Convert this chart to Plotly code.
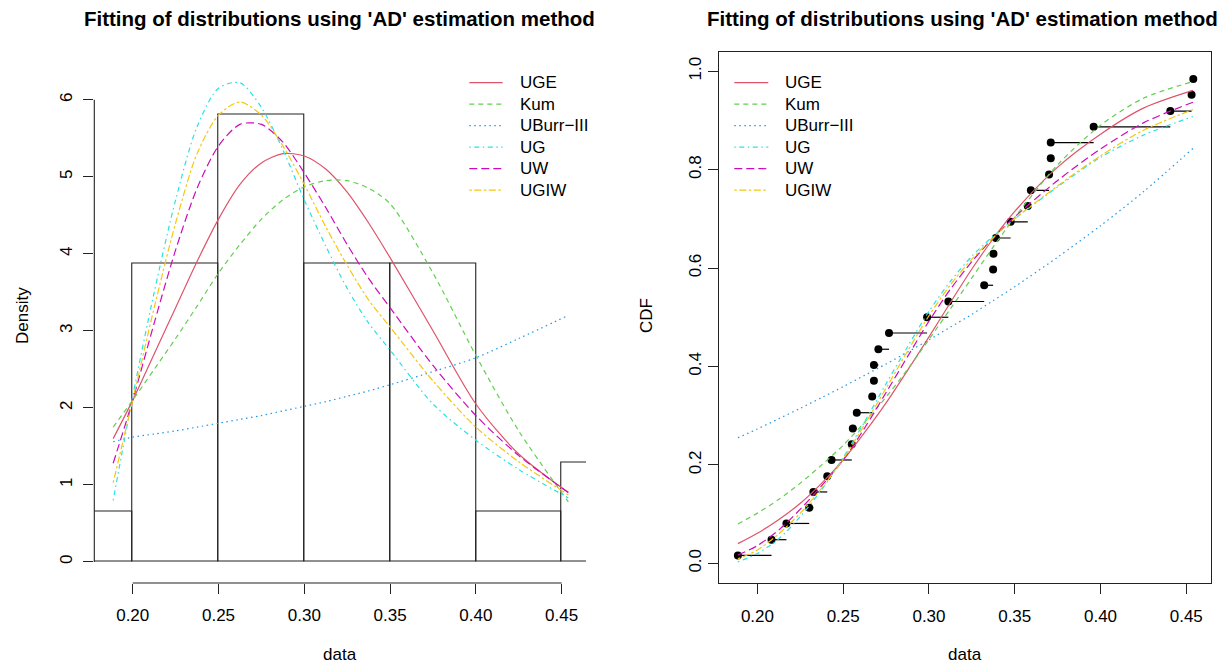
import plotly.graph_objects as go

# page is 1228x666; the html body adds an 8px margin, so the figure is drawn
# 8px in and all target positions below are page pixels
PAGE_OFF = 8
W, H = 1220, 658

# ---------------- data ----------------
series_names = ["UGE", "Kum", "UBurr\u2212III", "UG", "UW", "UGIW"]
series_colors = ["#DF536B", "#61D04F", "#2297E6", "#28E2E5", "#CD0BBC", "#F5C710"]
series_dash = ["solid", "5px,4px", "1.5px,3.5px", "1.5px,3.5px,5px,3.5px",
               "8px,4px", "2.5px,2.5px,7px,2.5px"]

hist_breaks = [0.15, 0.20, 0.25, 0.30, 0.35, 0.40, 0.45, 0.50]
hist_density = [0.65, 3.87, 5.81, 3.87, 3.87, 0.65, 1.29]

curve_x = [0.1886, 0.20, 0.2125, 0.225, 0.2375, 0.25, 0.2625, 0.275, 0.2875,
           0.30, 0.3125, 0.325, 0.3375, 0.35, 0.375, 0.40, 0.425, 0.4539]

dens_UGE = [1.60, 2.10, 2.70, 3.30, 3.90, 4.45, 4.90, 5.18, 5.30,
            5.27, 5.10, 4.80, 4.40, 3.95, 3.00, 2.05, 1.40, 0.90]
dens_Kum = [1.75, 2.10, 2.50, 2.90, 3.32, 3.75, 4.12, 4.45, 4.70,
            4.87, 4.95, 4.95, 4.85, 4.65, 3.75, 2.68, 1.70, 0.78]
dens_UBurr = [1.56, 1.62, 1.66, 1.70, 1.75, 1.80, 1.85, 1.90, 1.96,
              2.02, 2.08, 2.15, 2.22, 2.30, 2.47, 2.65, 2.90, 3.20]
dens_UG = [0.80, 2.15, 3.50, 4.70, 5.65, 6.15, 6.22, 5.90, 5.35,
           4.70, 4.10, 3.55, 3.10, 2.75, 2.05, 1.58, 1.20, 0.83]
dens_UW = [1.28, 2.10, 3.10, 4.05, 4.85, 5.40, 5.68, 5.68, 5.45,
           5.05, 4.60, 4.12, 3.68, 3.30, 2.55, 1.90, 1.38, 0.90]
dens_UGIW = [1.03, 2.10, 3.30, 4.40, 5.30, 5.80, 5.97, 5.80, 5.40,
             4.90, 4.35, 3.85, 3.40, 3.05, 2.35, 1.75, 1.30, 0.87]

cdf_UGE = [0.040, 0.061, 0.089, 0.122, 0.163, 0.210, 0.266, 0.326, 0.392,
           0.460, 0.530, 0.598, 0.660, 0.715, 0.805, 0.872, 0.925, 0.961]
cdf_Kum = [0.080, 0.102, 0.130, 0.163, 0.200, 0.240, 0.287, 0.338, 0.394,
           0.455, 0.517, 0.580, 0.643, 0.703, 0.810, 0.890, 0.945, 0.979]
cdf_UBurr = [0.255, 0.273, 0.294, 0.315, 0.337, 0.359, 0.382, 0.405, 0.429,
             0.454, 0.480, 0.506, 0.534, 0.562, 0.622, 0.686, 0.755, 0.843]
cdf_UG = [0.003, 0.020, 0.050, 0.095, 0.150, 0.215, 0.288, 0.365, 0.440,
          0.512, 0.573, 0.624, 0.665, 0.700, 0.765, 0.825, 0.870, 0.908]
cdf_UW = [0.017, 0.036, 0.068, 0.110, 0.158, 0.210, 0.275, 0.347, 0.420,
          0.492, 0.557, 0.613, 0.662, 0.704, 0.778, 0.842, 0.895, 0.937]
cdf_UGIW = [0.009, 0.027, 0.060, 0.102, 0.153, 0.212, 0.282, 0.356, 0.431,
            0.503, 0.566, 0.618, 0.662, 0.700, 0.767, 0.828, 0.880, 0.922]

densities = [dens_UGE, dens_Kum, dens_UBurr, dens_UG, dens_UW, dens_UGIW]
cdfs = [cdf_UGE, cdf_Kum, cdf_UBurr, cdf_UG, cdf_UW, cdf_UGIW]

# sorted observations and their plotting positions
obs_x = [0.1886, 0.2082, 0.2169, 0.2302, 0.2326, 0.2407, 0.2432, 0.2550,
         0.2556, 0.2579, 0.2669, 0.2679, 0.2679, 0.2705, 0.2767, 0.2989,
         0.3113, 0.3322, 0.3374, 0.3376, 0.3390, 0.3476, 0.3576, 0.3594,
         0.3700, 0.3710, 0.3710, 0.3960, 0.4407, 0.4531, 0.4541]
obs_p = [0.016, 0.048, 0.081, 0.113, 0.145, 0.177, 0.210, 0.242,
         0.274, 0.306, 0.339, 0.371, 0.403, 0.435, 0.468, 0.500,
         0.532, 0.565, 0.597, 0.629, 0.661, 0.694, 0.726, 0.758,
         0.790, 0.823, 0.855, 0.887, 0.919, 0.952, 0.984]

x_ticks = [0.20, 0.25, 0.30, 0.35, 0.40, 0.45]
x_ticktext = ["0.20", "0.25", "0.30", "0.35", "0.40", "0.45"]
dens_ticks = [0, 1, 2, 3, 4, 5, 6]
cdf_ticks = [0.0, 0.2, 0.4, 0.6, 0.8, 1.0]
cdf_ticktext = ["0.0", "0.2", "0.4", "0.6", "0.8", "1.0"]

title_text = "Fitting of distributions using 'AD' estimation method"

# ---------------- figure ----------------
FONT = "Liberation Sans, Arial, Helvetica, sans-serif"
fig = go.Figure()

# histogram
mids = [(a + b) / 2 for a, b in zip(hist_breaks[:-1], hist_breaks[1:])]
widths = [b - a for a, b in zip(hist_breaks[:-1], hist_breaks[1:])]
fig.add_trace(go.Bar(x=mids, y=hist_density, width=widths,
                     marker=dict(color="rgba(0,0,0,0)",
                                 line=dict(color="#222222", width=1.1)),
                     xaxis="x", yaxis="y", showlegend=False, hoverinfo="skip"))

for name, col, dash, d in zip(series_names, series_colors, series_dash, densities):
    fig.add_trace(go.Scatter(x=curve_x, y=d, mode="lines", name=name,
                             line=dict(color=col, dash=dash, width=1.2,
                                       shape="spline", smoothing=0.8),
                             xaxis="x", yaxis="y", showlegend=False))

# ECDF steps + points
seg_x, seg_y = [], []
for i in range(len(obs_x) - 1):
    seg_x += [obs_x[i], obs_x[i + 1], None]
    seg_y += [obs_p[i], obs_p[i], None]
fig.add_trace(go.Scatter(x=seg_x, y=seg_y, mode="lines",
                         line=dict(color="black", width=1.2),
                         xaxis="x2", yaxis="y2", showlegend=False, hoverinfo="skip"))
fig.add_trace(go.Scatter(x=obs_x, y=obs_p, mode="markers",
                         marker=dict(color="black", size=8),
                         xaxis="x2", yaxis="y2", showlegend=False))

for name, col, dash, c in zip(series_names, series_colors, series_dash, cdfs):
    fig.add_trace(go.Scatter(x=curve_x, y=c, mode="lines", name=name,
                             line=dict(color=col, dash=dash, width=1.2,
                                       shape="spline", smoothing=0.8),
                             xaxis="x2", yaxis="y2", showlegend=False))

# ---------------- layout ----------------
def px(x):
    return (x - PAGE_OFF) / W

def py(y):
    return 1 - (y - PAGE_OFF) / H

L_X0, L_X1 = 94.3, 586.0
R_X0, R_X1 = 719.2, 1210.8
Y_TOP, Y_BOT = 51.5, 583.0

tickfont = dict(family=FONT, size=17, color="black")

axis_common = dict(showgrid=False, zeroline=False, ticks="outside", ticklen=10,
                   tickwidth=1, tickcolor="#222222", tickfont=tickfont)

fig.update_layout(
    width=W, height=H, margin=dict(l=0, r=0, t=0, b=0),
    paper_bgcolor="white", plot_bgcolor="white", showlegend=False,
    font=dict(family=FONT, size=17, color="black"),
    bargap=0,
    xaxis=dict(domain=[px(L_X0), px(L_X1)], range=[0.1776, 0.4642],
               tickvals=x_ticks, ticktext=x_ticktext, showline=False,
               ticklabelstandoff=7, anchor="y", **axis_common),
    yaxis=dict(domain=[py(Y_BOT), py(Y_TOP)], range=[-0.274, 6.626],
               tickvals=dens_ticks, tickangle=-90, showline=False,
               ticklabelstandoff=5, anchor="x", **axis_common),
    xaxis2=dict(domain=[px(R_X0), px(R_X1)], range=[0.1777, 0.4643],
                tickvals=x_ticks, ticktext=x_ticktext, showline=True,
                mirror=True, linecolor="#222222", linewidth=1.2,
                ticklabelstandoff=7, anchor="y2", **axis_common),
    yaxis2=dict(domain=[py(Y_BOT), py(Y_TOP)], range=[-0.04, 1.04],
                tickvals=cdf_ticks, ticktext=cdf_ticktext, tickangle=-90,
                showline=True, mirror=True, linecolor="#222222", linewidth=1.2,
                anchor="x2", **axis_common),
)

shapes = [
    dict(type="line", xref="x", yref="y domain", x0=x_ticks[0], x1=x_ticks[-1],
         y0=0, y1=0, line=dict(color="#222222", width=1.1)),
    dict(type="line", xref="x domain", yref="y", x0=0, x1=0,
         y0=dens_ticks[0], y1=dens_ticks[-1], line=dict(color="#222222", width=1.1)),
]

annotations = []
# titles
for cx in (339.5, 962.0):
    annotations.append(dict(text="<b>%s</b>" % title_text, x=px(cx), y=py(18.5),
                            xref="paper", yref="paper", xanchor="center",
                            yanchor="middle", showarrow=False,
                            font=dict(family=FONT, size=20.5, color="black")))
# axis titles
for cx in (340.0, 965.0):
    annotations.append(dict(text="data", x=px(cx), y=py(654), xref="paper",
                            yref="paper", xanchor="center", yanchor="middle",
                            showarrow=False, font=dict(family=FONT, size=17)))
annotations.append(dict(text="Density", x=px(22), y=py(316), xref="paper",
                        yref="paper", xanchor="center", yanchor="middle",
                        textangle=-90, showarrow=False, font=dict(family=FONT, size=17)))
annotations.append(dict(text="CDF", x=px(646), y=py(316), xref="paper",
                        yref="paper", xanchor="center", yanchor="middle",
                        textangle=-90, showarrow=False, font=dict(family=FONT, size=17)))

# legends (manual, R-style without box)
for lx0, lx1, tx in ((469.3, 502.7, 518.3), (734.3, 768.3, 783.3)):
    for i, (name, col, dash) in enumerate(zip(series_names, series_colors, series_dash)):
        yy = 82.7 + 21.5 * i
        shapes.append(dict(type="line", xref="paper", yref="paper",
                           x0=px(lx0), x1=px(lx1), y0=py(yy), y1=py(yy),
                           line=dict(color=col, width=1.2, dash=dash)))
        annotations.append(dict(text=name, x=px(tx), y=py(yy), xref="paper",
                                yref="paper", xanchor="left", yanchor="middle",
                                showarrow=False, font=dict(family=FONT, size=17)))

fig.update_layout(shapes=shapes, annotations=annotations)

fig.write_html("out.html")
